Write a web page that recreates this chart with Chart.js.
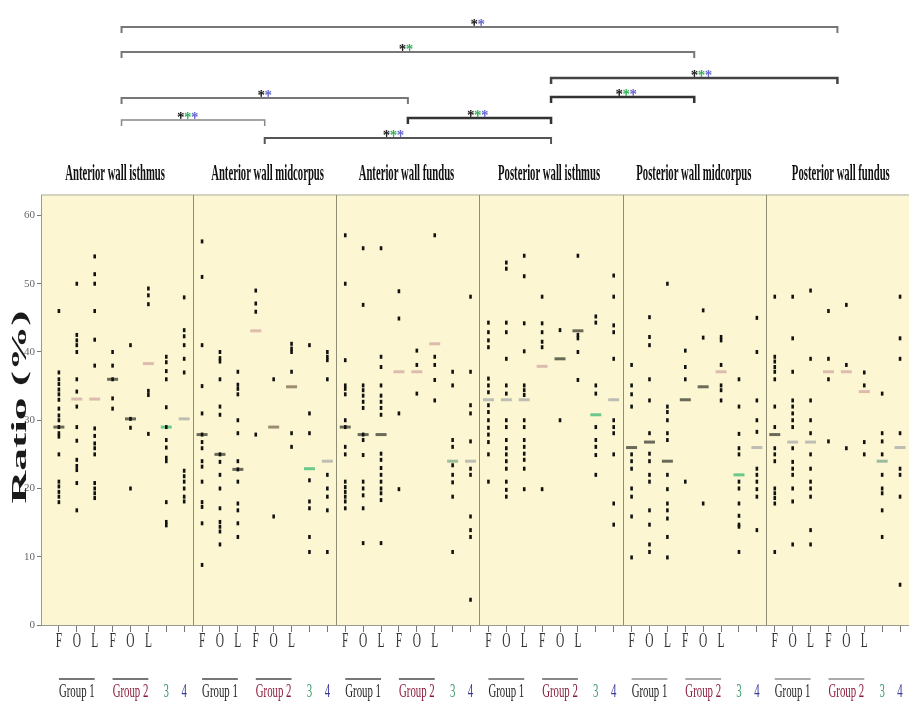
<!DOCTYPE html>
<html>
<head>
<meta charset="utf-8">
<script src="https://cdn.jsdelivr.net/npm/chart.js@4"></script>
<style>
  body { margin: 0; background: #fff; }
  #c { display: block; }
</style>
</head>
<body>
<canvas id="c" width="909" height="714"></canvas>
<script>
// regions and labels
var regions = ["Anterior wall isthmus", "Anterior wall midcorpus", "Anterior wall fundus",
               "Posterior wall isthmus", "Posterior wall midcorpus", "Posterior wall fundus"];
var subLabels = ["F", "O", "L", "F", "O", "L"];
var groupLabels = ["Group 1", "Group 2", "3", "4"];
var yTicks = [0, 10, 20, 30, 40, 50, 60];

// individual values per region, columns: G1 F,O,L / G2 F,O,L / 3 / 4
var antIsthmus = [
    [46, 37, 36, 35.3, 34.5, 33.8, 33, 31.7, 30.7, 30, 29, 28.1, 27.6, 25, 21, 20.3, 19.5, 18.8, 18],
    [50, 42.5, 41.7, 41, 40, 36, 34.2, 32, 29, 27, 24.2, 23.3, 22.7, 20.8, 16.8],
    [54, 51.4, 50, 46, 41.8, 38, 28.8, 27.7, 26.6, 25.9, 25, 20.8, 20, 19.3, 18.6],
    [40, 38, 36, 33.2, 31.7],
    [41, 30.2, 28.9, 20],
    [49.3, 48.3, 47, 34.3, 33.7, 28],
    [39.3, 38.5, 37.2, 36, 31.9, 29, 27.1, 26, 24.5, 24, 18, 15.1, 14.6],
    [48, 43.2, 42.3, 41, 39, 37, 22.6, 21.8, 21, 20, 18.8, 18.1]
];
var antMidcorpus = [
    [56.2, 51, 41, 35, 31, 27.9, 26.8, 25.9, 24, 23.2, 21, 18, 17.3, 14.9, 8.8],
    [40, 39.1, 38.6, 36, 32, 30.8, 25, 23.9, 22, 20, 17.1, 15.1, 14.4, 13.7, 11.8],
    [37.1, 35.2, 34.6, 33.8, 30, 28.1, 24, 22.8, 21, 17.8, 16.8, 14.9, 12.9],
    [49, 47.1, 45.9, 27.9],
    [36, 15.9],
    [41.2, 40.5, 40, 37.1, 28.1, 26.1],
    [41, 31, 28.1, 21.2, 18.1, 17.1, 12.9, 10.7],
    [40, 39.3, 38.8, 36, 22, 20, 18.8, 16.8, 10.7]
];
var antFundus = [
    [57.1, 50, 38.8, 35.1, 34.6, 33.8, 30, 29, 26.1, 25, 21, 20.2, 19.5, 18.8, 18.1, 17.1],
    [55.2, 46.9, 35.1, 34.4, 33.6, 32.7, 31.8, 27.9, 27.1, 24.9, 21, 20, 19, 17.1, 12],
    [55.2, 39.3, 37.8, 35.1, 33.6, 32.7, 31.8, 30.8, 25.1, 24.2, 23, 22, 21, 20, 19.3, 18.3, 12],
    [48.9, 44.9, 31, 19.9],
    [40.2, 38.1, 33.9],
    [57.1, 39.3, 38.1, 35.9, 32.9],
    [37.1, 35.1, 27.1, 26.1, 23.4, 22, 20.9, 18.8, 10.7],
    [48.1, 37.1, 32.2, 31, 26.9, 22.9, 22, 15.9, 13.9, 12.9, 3.7]
];
var postIsthmus = [
    [44.3, 42.9, 41.7, 40.7, 36.1, 35.1, 34.1, 32.2, 31.2, 30, 28.9, 27.9, 26.8, 25, 21],
    [53.1, 52.2, 44.3, 42.9, 39, 35.1, 33.9, 30, 29, 27.1, 25.9, 25, 24, 22.9, 21, 19.8, 18.8],
    [54.1, 51.1, 44.2, 40.1, 35.1, 34.4, 33.7, 30, 29, 27.1, 26.1, 25.1, 24.2, 22.9, 19.9],
    [48.1, 44.2, 42.9, 41.5, 40.7, 19.9],
    [43.2, 30],
    [54.1, 42.5, 42, 40, 35.9],
    [45.2, 44.3, 35.1, 33.9, 29, 27.1, 26.1, 24.9, 22],
    [51.2, 48.1, 43.9, 42.9, 39, 30, 29, 28.1, 25, 17.8, 14.7]
];
var postMidcorpus = [
    [38.1, 35.1, 33.8, 32, 25, 24, 22.9, 20, 18.8, 15.9, 9.9],
    [45.1, 42.2, 41, 36, 32.9, 28.1, 25.1, 24, 22, 21, 16.8, 14.7, 11.8, 10.7],
    [50, 32, 31.2, 30, 28.1, 27.1, 22, 19.9, 17.8, 16.8, 15.6, 12.9, 9.9],
    [40.2, 37.8, 36, 21],
    [46.1, 42.1, 17.8],
    [42.2, 41.7, 38.1, 35.1, 34.4, 32.9],
    [36, 32, 28, 25.9, 25, 21, 20, 17.8, 16, 14.7, 14.4, 10.7],
    [45, 40, 32.9, 30, 28.3, 22.9, 22, 21, 19.9, 18.8, 13.9]
];
var postFundus = [
    [48.1, 39.3, 38.6, 37.8, 37.1, 36, 32, 29, 25.9, 25, 24, 20, 19.3, 18.6, 17.8, 10.7],
    [48.1, 42, 37.1, 32.9, 32, 31, 30, 29, 25.9, 23.9, 22.9, 22, 20, 18.1, 11.8],
    [49, 39, 32.9, 30, 28.1, 25, 22.9, 21, 20, 18.8, 13.9, 11.8],
    [46, 39, 36, 26.9],
    [46.9, 38.1, 25.9],
    [37, 35.1, 26.8, 25],
    [33.9, 28.1, 26.9, 25, 22, 20, 19.3, 16.8, 12.9],
    [48.1, 42, 39, 28.1, 22.9, 22, 18.8, 5.9]
];

// medians (one row per region)
var medians = [
    [29, 33.1, 33.1, 36, 30.2, 38.3, 29, 30.2],
    [27.9, 25, 22.8, 43.1, 29, 34.9, 22.9, 24],
    [29, 27.9, 27.9, 37.1, 37.1, 41.2, 24, 24],
    [33, 33, 33, 37.9, 39, 43.1, 30.8, 33],
    [26, 26.8, 24, 33, 34.9, 37.1, 22, 26],
    [27.9, 26.8, 26.8, 37.1, 37.1, 34.2, 24, 26]
];

// significant comparisons between regions
var compPairs = [[0, 5], [0, 4], [0, 2], [0, 1], [1, 3], [2, 3], [3, 5], [3, 4]];
var compStars = ["kb", "kg", "kb", "kgb", "kgb", "kgb", "kgb", "kgb"];

// ---- styles ----
var allRegions = [antIsthmus, antMidcorpus, antFundus, postIsthmus, postMidcorpus, postFundus];
var dk = "#6a6a58", pk = "#dcbcae", gn = "#6cc88c", gy = "#bdbdb4", tn = "#9c8c72", gg = "#9cbc9c";
var medColors = [
    [dk, pk, pk, dk, dk, pk, gn, gy],
    [dk, dk, dk, pk, tn, tn, gn, gy],
    [dk, dk, dk, pk, pk, pk, gg, gy],
    [gy, gy, gy, pk, dk, dk, gn, gy],
    [dk, dk, dk, dk, dk, pk, gn, gy],
    [dk, gy, gy, pk, pk, pk, gg, gy]
];
var bracketY = [27, 52, 98, 120, 138, 118, 78, 97];
var bracketStyle = [["#777", 2], ["#777", 2], ["#777", 2], ["#888", 1.5], ["#555", 2], ["#333", 2.5], ["#444", 2.5], ["#333", 2.5]];
var starPos = [23.4, 19.4, 11.5, 7.2, 18.7, 23.4, 35.9, 31.7];
var starColors = { k: "#222", g: "#3bb060", b: "#6a6ad0" };
var headerShift = [-0.36, 0.16, -0.08, -0.11, -0.02, 0.19];
var groupColors = ["#222", "#8b1a3a", "#3a9a6a", "#3a3a9a"];
var groupLineColors = ["#777", "#777", "#777", "#888", "#aaa", "#aaa"];

var dots = [];
var meds = [];
var medCol = [];
allRegions.forEach(function (reg, p) {
    reg.forEach(function (vals, c) {
        vals.forEach(function (v) {
            dots.push({ x: p * 8 + c, y: v });
        });
        meds.push({ x: p * 8 + c, y: medians[p][c] });
        medCol.push(medColors[p][c]);
    });
});

function drawText(ctx, txt, x, y, font, sx, color, align) {
    ctx.save();
    ctx.font = font;
    ctx.fillStyle = color;
    ctx.textAlign = align || "center";
    ctx.textBaseline = "alphabetic";
    ctx.translate(x, y);
    ctx.scale(sx, 1);
    ctx.fillText(txt, 0, 0);
    ctx.restore();
}

var backdrop = {
    id: "backdrop",
    beforeDraw: function (chart) {
        var ctx = chart.ctx, a = chart.chartArea;
        ctx.save();
        ctx.fillStyle = "#fcf7d2";
        ctx.fillRect(a.left, a.top, a.right - a.left, a.bottom - a.top);
        ctx.strokeStyle = "#d4d2c0";
        ctx.lineWidth = 2;
        ctx.beginPath();
        ctx.moveTo(a.left, a.top);
        ctx.lineTo(a.right, a.top);
        ctx.stroke();
        ctx.restore();
    },
    beforeDatasetsDraw: function (chart) {
        var ctx = chart.ctx, a = chart.chartArea, xs = chart.scales.x;
        ctx.save();
        ctx.strokeStyle = "#8e8e74";
        ctx.lineWidth = 1;
        for (var p = 1; p < 6; p++) {
            var x = Math.round(xs.getPixelForValue(p * 8 - 0.5)) + 0.5;
            ctx.beginPath();
            ctx.moveTo(x, a.top);
            ctx.lineTo(x, a.bottom);
            ctx.stroke();
        }
        ctx.restore();
    }
};

var decorations = {
    id: "decorations",
    afterDraw: function (chart) {
        var ctx = chart.ctx, xs = chart.scales.x;
        var px = function (v) { return xs.getPixelForValue(v); };

        // region headers
        regions.forEach(function (r, p) {
            drawText(ctx, r, px(p * 8 + 3.5 + headerShift[p]), 180, "bold 24px 'Liberation Serif'", 0.445, "#111");
        });

        // comparison brackets
        compPairs.forEach(function (pair, i) {
            var x1 = px(pair[0] * 8 + 3.5), x2 = px(pair[1] * 8 + 3.5), y = bracketY[i];
            ctx.save();
            ctx.strokeStyle = bracketStyle[i][0];
            ctx.lineWidth = bracketStyle[i][1];
            ctx.beginPath();
            ctx.moveTo(x1, y + 6);
            ctx.lineTo(x1, y);
            ctx.lineTo(x2, y);
            ctx.lineTo(x2, y + 6);
            ctx.stroke();
            ctx.restore();
            var sx0 = px(starPos[i]) - (compStars[i].length - 1) * 3.5;
            compStars[i].split("").forEach(function (k, j) {
                var sx = sx0 + j * 7;
                ctx.save();
                ctx.strokeStyle = starColors[k];
                ctx.lineWidth = 1.2;
                ctx.beginPath();
                ctx.moveTo(sx, y - 1);
                ctx.lineTo(sx, y - 6);
                ctx.stroke();
                ctx.restore();
                drawText(ctx, "*", sx, y + 2, "bold 15px 'Liberation Serif'", 1, starColors[k]);
            });
        });

        // x labels
        for (var p = 0; p < 6; p++) {
            subLabels.forEach(function (s, c) {
                drawText(ctx, s, px(p * 8 + c), 647, "22px 'Liberation Serif'", 0.52, "#333");
            });
            [[0, 2], [3, 5]].forEach(function (g) {
                ctx.save();
                ctx.strokeStyle = groupLineColors[p];
                ctx.lineWidth = 2;
                ctx.beginPath();
                ctx.moveTo(px(p * 8 + g[0]), 679);
                ctx.lineTo(px(p * 8 + g[1]), 679);
                ctx.stroke();
                ctx.restore();
            });
            var gx = [1, 4, 6, 7];
            groupLabels.forEach(function (g, k) {
                drawText(ctx, g, px(p * 8 + gx[k]), 697, "18px 'Liberation Serif'", 0.6, groupColors[k]);
            });
        }

        // y title
        ctx.save();
        ctx.font = "bold 22px 'Liberation Serif'";
        var w = ctx.measureText("Ratio (%)").width;
        ctx.translate(20, 407);
        ctx.rotate(-Math.PI / 2);
        ctx.scale(193 / w, 1);
        ctx.fillStyle = "#1a1a1a";
        ctx.textAlign = "center";
        ctx.textBaseline = "middle";
        ctx.fillText("Ratio (%)", 0, 0);
        ctx.restore();
    }
};

var ctx = document.getElementById("c");
var chart = new Chart(ctx, {
    type: "scatter",
    data: {
        datasets: [{
            label: "values",
            data: dots,
            pointStyle: "line",
            rotation: 90,
            radius: 2,
            borderWidth: 2.6,
            borderColor: "#111",
            backgroundColor: "#111"
        }, {
            label: "median",
            data: meds,
            pointStyle: "line",
            radius: 5.5,
            borderWidth: 3,
            borderColor: medCol,
            backgroundColor: medCol
        }]
    },
    options: {
        responsive: false,
        animation: false,
        devicePixelRatio: 1,
        layout: { autoPadding: false, padding: { top: 195, left: 0, right: 0, bottom: 0 } },
        plugins: { legend: { display: false }, tooltip: { enabled: false } },
        scales: {
            x: {
                type: "linear",
                min: -1,
                max: 47.5,
                afterBuildTicks: function (scale) {
                    var t = [];
                    for (var i = 0; i < 48; i++) t.push({ value: i });
                    scale.ticks = t;
                },
                afterFit: function (scale) { scale.height = 89; },
                ticks: { callback: function () { return ""; } },
                grid: { drawOnChartArea: false, drawTicks: true, tickLength: 7, color: "#777" },
                border: { color: "#9a9a90", width: 1 }
            },
            y: {
                min: 0,
                max: 63,
                afterBuildTicks: function (scale) {
                    scale.ticks = yTicks.map(function (v) { return { value: v }; });
                },
                afterFit: function (scale) { scale.width = 41; },
                ticks: { color: "#666", font: { family: "'Liberation Serif'", size: 11 }, padding: 2 },
                grid: { drawOnChartArea: false, drawTicks: true, tickLength: 4, color: "#777" },
                border: { color: "#9a9a90", width: 1 }
            }
        }
    },
    plugins: [backdrop, decorations]
});
</script>
</body>
</html>
